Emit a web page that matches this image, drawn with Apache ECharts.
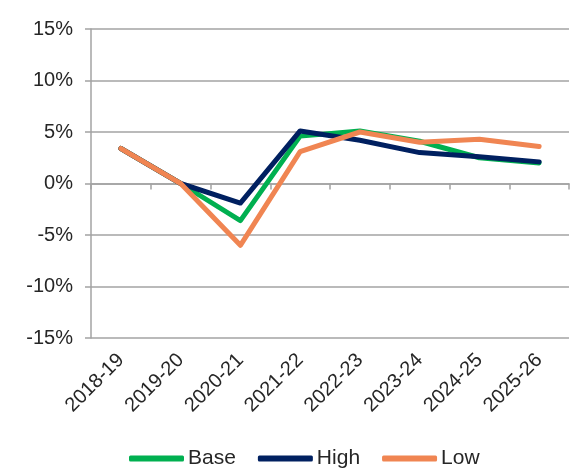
<!DOCTYPE html>
<html>
<head>
<meta charset="utf-8">
<script src="https://cdn.jsdelivr.net/npm/echarts@6/dist/echarts.min.js"></script>
<style>
  html, body { margin: 0; padding: 0; background: #fff; }
  #chart { width: 573px; height: 472px; }
</style>
</head>
<body>
<div id="chart"></div>
<script>
// categories and series values (%)
const years = ['2018-19', '2019-20', '2020-21', '2021-22', '2022-23', '2023-24', '2024-25', '2025-26']
const baseData = [3.4, 0.0, -3.6, 4.6, 5.1, 4.1, 2.5, 2.0]
const highData = [3.4, 0.0, -1.9, 5.1, 4.2, 3.0, 2.6, 2.1]
const lowData = [3.4, 0.0, -6.0, 3.1, 5.0, 4.0, 4.3, 3.6]
const yTicks = [-15, -10, -5, 0, 5, 10, 15]

const gridColor = '#a3a3a3'
const textColor = '#262626'

const chart = echarts.init(document.getElementById('chart'))

const mkLine = (name, data, color) => ({
  name: name,
  type: 'line',
  data: data,
  xAxisIndex: 0,
  symbol: 'none',
  lineStyle: { color: color, width: 5, cap: 'round', join: 'round' },
  itemStyle: { color: color }
})

chart.setOption({
  animation: false,
  grid: { left: 91, right: 4, top: 29, bottom: 134 },
  legend: {
    top: 448,
    left: 129,
    padding: 0,
    icon: 'roundRect',
    itemWidth: 55,
    itemHeight: 6,
    itemGap: 22,
    textStyle: { fontFamily: 'Liberation Sans, Arial', fontSize: 21, color: textColor, padding: [0, 0, 0, -1] },
    data: ['Base', 'High', 'Low']
  },
  xAxis: [
    {
      type: 'category',
      data: years,
      axisLine: { onZero: true, lineStyle: { color: gridColor, width: 1.5 } },
      axisTick: { show: true, length: 6, lineStyle: { color: gridColor, width: 1.5 } },
      axisLabel: { show: false }
    },
    {
      type: 'category',
      data: years,
      position: 'bottom',
      axisLine: { show: false, onZero: false },
      axisTick: { show: false },
      axisLabel: {
        rotate: 45,
        margin: 19,
        fontFamily: 'Liberation Sans, Arial',
        fontSize: 20,
        color: textColor
      }
    }
  ],
  yAxis: {
    type: 'value',
    min: yTicks[0],
    max: yTicks[yTicks.length - 1],
    interval: 5,
    axisLine: { show: true, lineStyle: { color: gridColor, width: 1.5 } },
    axisTick: { show: true, length: 6, lineStyle: { color: gridColor, width: 1.5 } },
    splitLine: { lineStyle: { color: gridColor, width: 1.5 } },
    axisLabel: {
      formatter: '{value}%',
      margin: 18,
      fontFamily: 'Liberation Sans, Arial',
      fontSize: 20,
      color: textColor
    }
  },
  series: [
    mkLine('Base', baseData, '#00b050'),
    mkLine('High', highData, '#002060'),
    mkLine('Low', lowData, '#f08552')
  ]
})
</script>
</body>
</html>
